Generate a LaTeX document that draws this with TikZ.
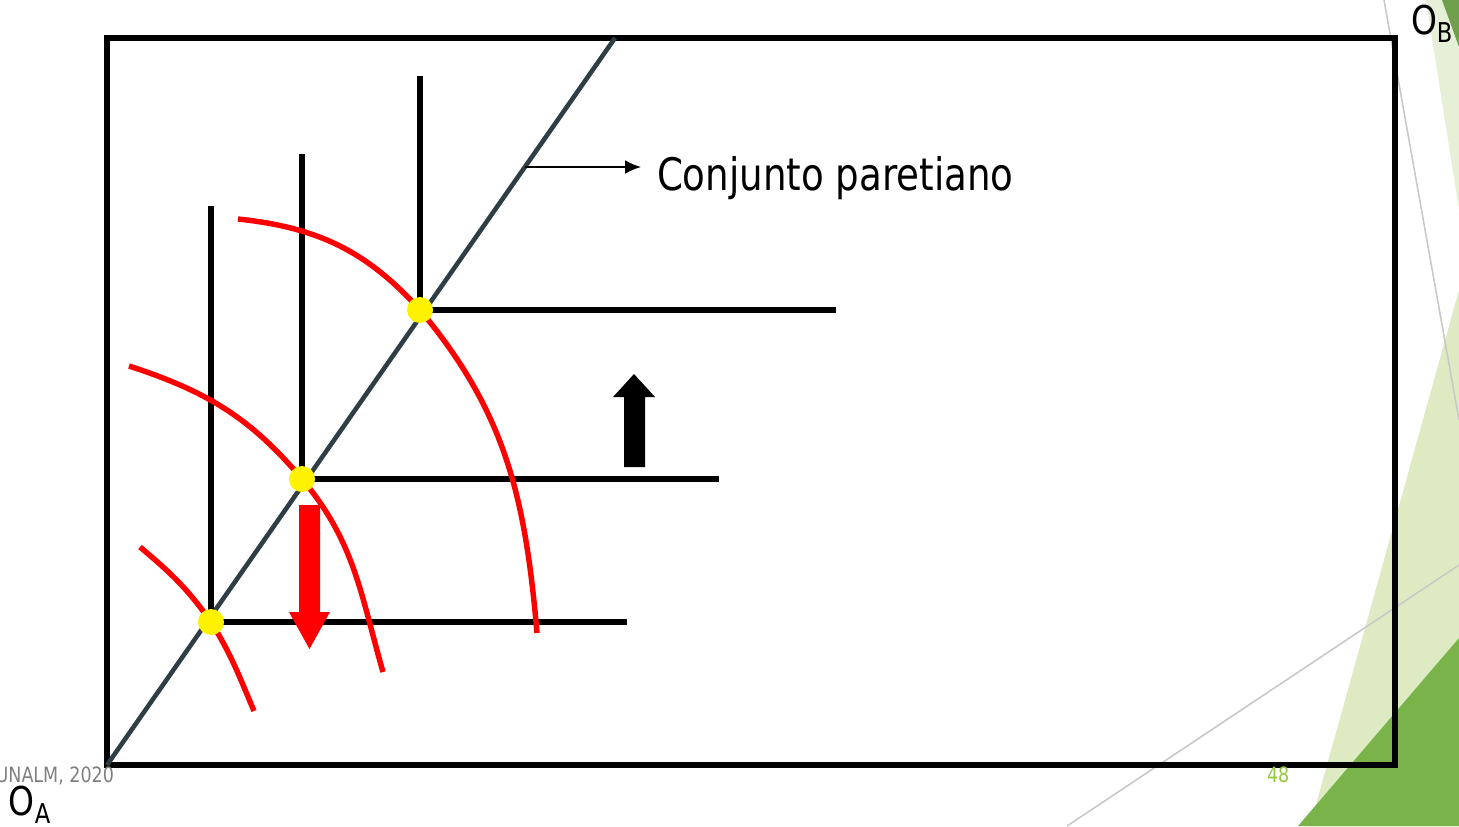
\documentclass[tikz,border=0pt]{standalone}
\usepackage{fontspec}
\setmainfont{DejaVu Sans}[FakeStretch=0.83]
\usetikzlibrary{arrows.meta}
\definecolor{diagc}{HTML}{2F3E45}
\definecolor{lgreen}{HTML}{DEEBC2}
\definecolor{lgreenb}{HTML}{E6F0D6}
\definecolor{dgreen}{HTML}{7BB34B}
\definecolor{dgreenb}{HTML}{6F9E4C}
\definecolor{deco}{HTML}{C8C8C8}
\definecolor{numgreen}{HTML}{92C83E}
\definecolor{foot}{HTML}{7F7F7F}
\tikzset{
  framebox/.style={draw=black, line width=3.4pt},
  diagline/.style={draw=diagc, line width=2.6pt},
  axisline/.style={draw=black, line width=3.4pt},
  redcurve/.style={draw=red, line width=3.1pt},
  dot/.style={circle, fill=yellow, inner sep=0pt, minimum size=26*0.02cm},
  pointer/.style={draw=black, line width=1.1pt, -{Latex[length=9pt,width=7.8pt]}},
  decoline/.style={draw=deco, line width=0.9pt},
  txt/.style={inner sep=0pt, outer sep=0pt}
}
\begin{document}
\begin{tikzpicture}[x=0.02cm, y=-0.02cm]
\useasboundingbox (0,0) rectangle (1459,826);
% background decoration
\fill[lgreenb] (1426,0) -- (1459,0) -- (1459,210) -- cycle;
\fill[dgreenb] (1442,0) -- (1459,0) -- (1459,47) -- cycle;
\fill[lgreen] (1459,290) -- (1310,826) -- (1459,826) -- cycle;
\fill[dgreen] (1459,638) -- (1298,826) -- (1459,826) -- cycle;
\draw[decoline] (1384,0) -- (1459,420);
\draw[decoline] (1067,826) -- (1459,565);
% frame and pareto set
\coordinate (OA) at (107,765);
\coordinate (OB) at (1395,38);
\coordinate (dtop) at (615,38);
\draw[framebox] (OA) rectangle (OB);
\draw[diagline] (OA) -- (dtop);
% equilibrium points
\coordinate (cA) at (211,622);
\coordinate (cB) at (302,479);
\coordinate (cC) at (420,310);
\coordinate (vA) at (211,206);
\coordinate (vB) at (302,154);
\coordinate (vC) at (420,76);
\coordinate (hA) at (627,622);
\coordinate (hB) at (719,479);
\coordinate (hC) at (836,310);
\draw[axisline] (vA) -- (cA) -- (hA);
\draw[axisline] (vB) -- (cB) -- (hB);
\draw[axisline] (vC) -- (cC) -- (hC);
% red curves
\coordinate (a1) at (140,547);
\coordinate (a2) at (254,711);
\coordinate (b1) at (129,366);
\coordinate (b2) at (383,672);
\coordinate (c1) at (238,219);
\coordinate (c2) at (537,633);
\draw[redcurve] (a1) to[out=-40, in=125] (cA) to[out=-58, in=113] (a2);
\draw[redcurve] (b1) to[out=-18, in=130] (cB) to[out=-50, in=106] (b2);
\draw[redcurve] (c1) to[out=-6, in=132] (cC) to[out=-50, in=95] (c2);
% dots
\node[dot] (pA) at (cA) {};
\node[dot] (pB) at (cB) {};
\node[dot] (pC) at (cC) {};
% big arrows
\fill[red] (299,505) -- (320,505) -- (320,612) -- (330,612) -- (309.5,649) -- (289,612) -- (299,612) -- cycle;
\fill[black] (624,467) -- (645,467) -- (645,397) -- (655,397) -- (634,374) -- (613,397) -- (624,397) -- cycle;
% label
\coordinate (ps) at (525,167);
\coordinate (pe) at (641,167);
\draw[pointer] (ps) -- (pe);
\node[txt, anchor=base west] (lbl) at (657,190) {\fontsize{25.5}{30}\selectfont Conjunto paretiano};
% footer texts
\node[txt, anchor=base east, text=foot] (foot) at (114,782) {\fontsize{12}{14}\selectfont UNALM, 2020};
\node[txt, anchor=base west, text=numgreen] (num) at (1267,782) {\fontsize{12}{14}\selectfont 48};
\node[txt, anchor=base west] (oa) at (9,815) {\fontsize{22.6}{26}\selectfont O\raisebox{-5pt}{\fontsize{15.5}{18}\selectfont A}};
\node[txt, anchor=base west] (ob) at (1411,34) {\fontsize{22.6}{26}\selectfont O\raisebox{-5pt}{\fontsize{15.5}{18}\selectfont B}};
\end{tikzpicture}
\end{document}
